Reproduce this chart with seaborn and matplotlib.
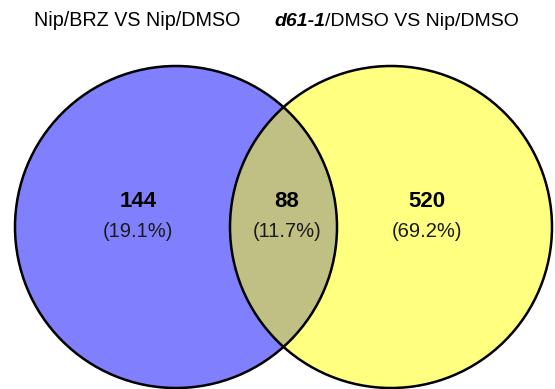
import matplotlib
matplotlib.use("Agg")
import matplotlib.pyplot as plt
from matplotlib.patches import Circle
import seaborn as sns

# Venn data
set_names = ["Nip/BRZ VS Nip/DMSO", "d61-1/DMSO VS Nip/DMSO"]
region_counts = [144, 88, 520]          # left only, both, right only
region_pcts = [19.1, 11.7, 69.2]

sns.set_theme(style="white")
plt.rcParams['font.family'] = ['Liberation Sans', 'DejaVu Sans']

fig = plt.figure(figsize=(5.55, 3.89), dpi=100)
ax = fig.add_axes([0, 0, 1, 1])
ax.set_xlim(0, 555)
ax.set_ylim(389, 0)
ax.set_aspect('equal')
ax.axis('off')

r = 161
left_c = (176, 227)
right_c = (391, 227)
blue = "#8080ff"
yellow = "#ffff80"
overlap = "#c0c084"

ax.add_patch(Circle(left_c, r, facecolor=blue, edgecolor='none', zorder=1))
ax.add_patch(Circle(right_c, r, facecolor=yellow, edgecolor='none', zorder=1))
lens = Circle(right_c, r, facecolor=overlap, edgecolor='none', zorder=2)
ax.add_patch(lens)
clip = Circle(left_c, r, transform=ax.transData, facecolor='none')
lens.set_clip_path(clip)
for c in (left_c, right_c):
    ax.add_patch(Circle(c, r, facecolor='none', edgecolor='black', lw=1.8, zorder=3))

# region labels
label_x = [138, 287, 427]
for x, n, p in zip(label_x, region_counts, region_pcts):
    ax.text(x, 207, f"{n}", ha='center', va='baseline', fontsize=16,
            fontweight='bold', color='black', zorder=4)
    ax.text(x, 237, f"({p}%)", ha='center', va='baseline', fontsize=14.5,
            color='#1a1a1a', zorder=4)

# set titles
ax.text(137, 26, set_names[0], ha='center', va='baseline', fontsize=14.2, color='black')
t1 = ax.text(274, 26, "d61-1", ha='left', va='baseline', fontsize=14,
             style='italic', fontweight='bold', color='black')
rest = set_names[1][len("d61-1"):]
ax.annotate(rest, xy=(1, 0), xycoords=t1, ha='left', va='bottom',
            fontsize=14, color='black')

fig.savefig("out.png", dpi=100)
